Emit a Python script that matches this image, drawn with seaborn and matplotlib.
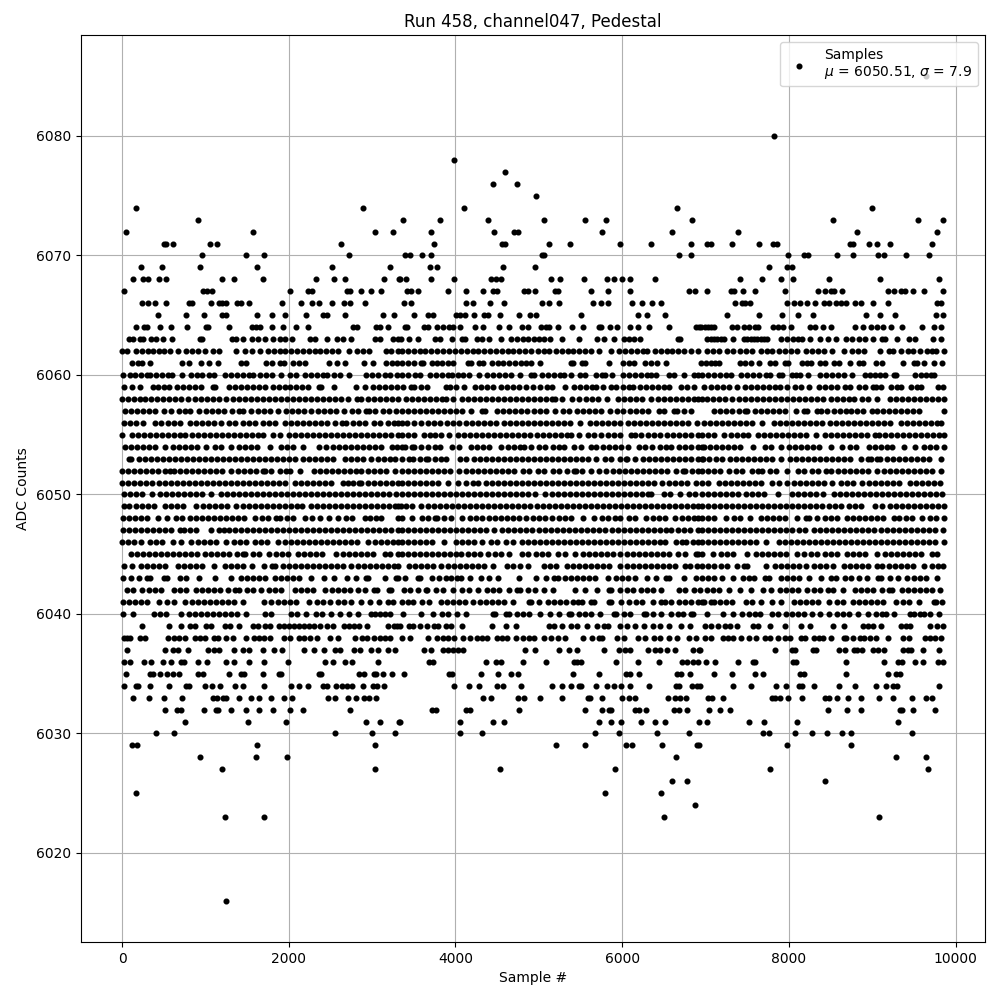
#pedestal scatter for one channel, sample number vs adc counts. values read per adc level.

import matplotlib
matplotlib.use("Agg")
import matplotlib.pyplot as plt
import seaborn as sns
import pandas as pd

# sample numbers seen at each ADC level
adc_6085 = [9648]
adc_6080 = [7820]
adc_6078 = [3988]
adc_6077 = [4600]
adc_6076 = [4456, 4744]
adc_6075 = [4960]
adc_6074 = [164, 2888, 4108, 6652, 8996]
adc_6073 = [908, 3376, 3820, 4396, 5056, 5548, 5800, 6832, 8528, 9548, 9848]
adc_6072 = [44, 1568, 3032, 3248, 3712, 4468, 4708, 4756, 5752, 6592, 7388, 8816, 9776]
adc_6071 = [500, 530, 616, 1052, 1136, 2624, 3748, 4564, 4600, 5116, 5368, 5968, 6340, 6820, 7016, 7064, 7316, 7640, 7808, 7856, 8732, 8768, 8960, 9056, 9212, 9716]
adc_6070 = [956, 1484, 1700, 2720, 3400, 3460, 3604, 3712, 5032, 5056, 6676, 6820, 7988, 8180, 8228, 8576, 8768, 9068, 9140, 9404, 9680]
adc_6069 = [224, 476, 932, 1616, 2516, 3212, 3700, 3784, 4576, 4948, 7760, 7976, 8036]
adc_6068 = [128, 248, 308, 440, 524, 1196, 1340, 1688, 2324, 2540, 2672, 3140, 3320, 3336, 3412, 3712, 3988, 4432, 4492, 4552, 5140, 5248, 5536, 5812, 5896, 5992, 6088, 6388, 7408, 7676, 7904, 8048, 8480, 9092, 9800]
adc_6067 = [20, 976, 1024, 1076, 2012, 2228, 2276, 2700, 2732, 2864, 2984, 3104, 3424, 3472, 3556, 3916, 4132, 4336, 4456, 4504, 4828, 4876, 4948, 5188, 5224, 5620, 5824, 6088, 6796, 6868, 7016, 7304, 7340, 7448, 7592, 7952, 8348, 8432, 8504, 8540, 8636, 9188, 9260, 9344, 9392, 9488, 9620, 9848]
adc_6066 = [236, 308, 392, 524, 800, 836, 1064, 1160, 1196, 1244, 1376, 1424, 1520, 1916, 2144, 2276, 2360, 2516, 2660, 2732, 2912, 3388, 3472, 4132, 4216, 4420, 4588, 5032, 5116, 5236, 5644, 5740, 5824, 6112, 6232, 6352, 6460, 7352, 7436, 7472, 7532, 7976, 8060, 8132, 8216, 8312, 8420, 8480, 8564, 8624, 8684, 8792, 8864, 9008, 9188, 9776, 9824]
adc_6065 = [428, 764, 980, 1196, 1244, 1616, 1796, 1952, 2204, 2408, 2456, 2672, 3128, 3260, 3508, 3676, 3736, 4012, 4060, 4120, 4228, 4348, 4396, 4540, 4768, 4900, 4960, 5500, 6184, 6292, 6508, 7256, 7640, 7916, 8108, 8288, 8924, 9092, 9272, 9764, 9848]
adc_6064 = [164, 260, 296, 452, 584, 776, 1004, 1028, 1280, 1556, 1604, 1652, 1796, 1928, 2084, 2228, 2768, 2816, 3044, 3092, 3188, 3400, 3424, 3628, 3676, 3784, 3856, 3928, 3976, 4060, 4240, 4336, 4528, 4648, 4804, 4876, 5020, 5080, 5116, 5224, 5392, 5524, 5716, 5740, 5848, 5936, 6088, 6184, 6316, 6556, 6880, 6916, 6948, 6988, 7028, 7068, 7100, 7316, 7376, 7460, 7520, 7592, 7628, 7808, 7868, 7928, 8024, 8252, 8312, 8408, 8504, 8792, 8888, 8984, 9056, 9128, 9224, 9356, 9596, 9740, 9824]
adc_6063 = [80, 128, 212, 248, 344, 404, 488, 596, 932, 956, 1316, 1364, 1448, 1556, 1628, 1712, 1808, 1892, 1952, 2036, 2252, 2312, 2464, 2576, 2648, 2744, 3032, 3092, 3248, 3308, 3352, 3448, 3556, 3760, 3820, 3964, 4084, 4120, 4264, 4324, 4408, 4552, 4672, 4744, 4816, 4876, 4936, 4996, 5056, 5136, 5272, 5476, 5692, 5776, 5896, 6016, 6076, 6136, 6216, 6664, 6688, 7016, 7060, 7100, 7140, 7180, 7216, 7328, 7460, 7500, 7540, 7580, 7620, 7660, 7700, 7740, 7904, 7976, 8048, 8108, 8156, 8252, 8372, 8468, 8564, 8684, 8756, 8840, 8912, 9008, 9116, 9152, 9296, 9440, 9512, 9728, 9824]
adc_6062 = [4, 64, 170, 240, 305, 375, 440, 505, 575, 672, 768, 840, 912, 992, 1088, 1160, 1368, 1472, 1560, 1652, 1748, 1820, 1890, 1960, 2030, 2100, 2170, 2240, 2310, 2380, 2450, 2520, 2592, 2724, 2816, 2888, 2960, 3168, 3232, 3308, 3360, 3430, 3500, 3570, 3640, 3710, 3780, 3850, 3924, 3995, 4065, 4135, 4205, 4275, 4345, 4415, 4485, 4555, 4625, 4695, 4765, 4835, 4908, 4984, 5056, 5116, 5204, 5275, 5345, 5415, 5485, 5555, 5625, 5720, 5864, 5956, 6036, 6108, 6180, 6244, 6296, 6392, 6462, 6532, 6602, 6672, 6742, 6828, 6904, 7016, 7088, 7160, 7256, 7332, 7416, 7488, 7560, 7668, 7736, 7800, 7884, 7956, 8028, 8100, 8204, 8276, 8348, 8420, 8520, 8660, 8756, 8828, 8900, 9096, 9200, 9248, 9340, 9428, 9492, 9576, 9652, 9716, 9760, 9860]
adc_6061 = [124, 188, 240, 332, 720, 800, 952, 1040, 1148, 1432, 1484, 1728, 1800, 1900, 1948, 2056, 2128, 2200, 2480, 2576, 2672, 2900, 3008, 3168, 3240, 3300, 3364, 3436, 3500, 3584, 3610, 3716, 3776, 3836, 3916, 3976, 4152, 4190, 4284, 4330, 4436, 4506, 4576, 4646, 4716, 4786, 4850, 4905, 5008, 5384, 5408, 5516, 5556, 5844, 6004, 6076, 6140, 6276, 6348, 6412, 6520, 6948, 7008, 7068, 7116, 7160, 7416, 7476, 7548, 7636, 7776, 7832, 7956, 7988, 8156, 8220, 8260, 8368, 8428, 8536, 8600, 8732, 8840, 8888, 9048, 9120, 9368, 9500, 9532, 9616, 9736, 9832]
adc_6060 = [8, 100, 152, 228, 300, 340, 408, 480, 550, 600, 720, 828, 900, 960, 1040, 1100, 1240, 1310, 1380, 1450, 1520, 1572, 1656, 1728, 1800, 1912, 2016, 2088, 2192, 2268, 2340, 2412, 2460, 2540, 2612, 2720, 2928, 3000, 3072, 3152, 3220, 3300, 3364, 3436, 3510, 3572, 3692, 3764, 3836, 3908, 3956, 4036, 4088, 4164, 4280, 4384, 4456, 4528, 4600, 4672, 4780, 4904, 4940, 5036, 5108, 5180, 5252, 5300, 5384, 5496, 5556, 5684, 5756, 5790, 5876, 6004, 6076, 6148, 6220, 6292, 6348, 6408, 6560, 6624, 6736, 6864, 6908, 6956, 7028, 7100, 7172, 7244, 7300, 7428, 7500, 7572, 7644, 7720, 7776, 7876, 7920, 8036, 8090, 8130, 8228, 8376, 8448, 8520, 8592, 8664, 8760, 8916, 8976, 9036, 9096, 9148, 9256, 9288, 9516, 9580, 9640, 9700, 9740]
adc_6059 = [20, 120, 212, 368, 430, 500, 560, 656, 728, 800, 870, 950, 1096, 1120, 1288, 1360, 1430, 1500, 1570, 1640, 1712, 1808, 1880, 1950, 2020, 2090, 2160, 2232, 2368, 2392, 2540, 2808, 2912, 3008, 3080, 3152, 3224, 3296, 3376, 3464, 3508, 3592, 3660, 3884, 3930, 4004, 4108, 4236, 4308, 4380, 4448, 4544, 4616, 4688, 4760, 4848, 4932, 5008, 5092, 5156, 5316, 5416, 5488, 5560, 5632, 5688, 5768, 5864, 5928, 6004, 6076, 6128, 6212, 6284, 6356, 6428, 6500, 6560, 6704, 6776, 6860, 6976, 7068, 7136, 7208, 7280, 7380, 7476, 7548, 7620, 7692, 7764, 7836, 7892, 7976, 8076, 8148, 8240, 8364, 8436, 8508, 8580, 8668, 8736, 8844, 8912, 9008, 9040, 9108, 9228, 9300, 9340, 9464, 9536, 9588, 9788, 9844]
adc_6058 = [0, 70, 140, 210, 280, 350, 420, 490, 560, 630, 712, 788, 880, 950, 1020, 1090, 1160, 1252, 1336, 1408, 1480, 1552, 1624, 1696, 1768, 1840, 1912, 1984, 2056, 2128, 2200, 2272, 2344, 2416, 2488, 2560, 2632, 2712, 2820, 2864, 2948, 3020, 3092, 3164, 3236, 3312, 3404, 3476, 3548, 3620, 3692, 3764, 3836, 3888, 3976, 4076, 4148, 4220, 4292, 4364, 4436, 4508, 4580, 4652, 4724, 4796, 4868, 4940, 5012, 5084, 5156, 5188, 5276, 5396, 5476, 5564, 5636, 5708, 5820, 5944, 6016, 6088, 6160, 6232, 6348, 6424, 6496, 6568, 6640, 6712, 6784, 6856, 6908, 6956, 7020, 7084, 7156, 7228, 7320, 7396, 7468, 7540, 7612, 7684, 7756, 7828, 7900, 7972, 8044, 8116, 8188, 8260, 8332, 8404, 8500, 8576, 8648, 8720, 8780, 8876, 8948, 9060, 9216, 9288, 9360, 9432, 9504, 9576, 9648, 9720, 9792, 9860]
adc_6057 = [40, 110, 180, 250, 320, 400, 508, 584, 680, 750, 820, 920, 1008, 1080, 1150, 1224, 1320, 1408, 1452, 1548, 1628, 1700, 1770, 1872, 1968, 2040, 2110, 2180, 2272, 2348, 2428, 2500, 2570, 2664, 2760, 2832, 2932, 2960, 3040, 3136, 3208, 3292, 3364, 3436, 3508, 3580, 3652, 3724, 3796, 3868, 3940, 4012, 4084, 4188, 4324, 4356, 4504, 4576, 4648, 4720, 4792, 4864, 4936, 5008, 5080, 5188, 5288, 5356, 5452, 5524, 5596, 5668, 5740, 5848, 5936, 6004, 6088, 6164, 6236, 6308, 6436, 6500, 6624, 6660, 6744, 6828, 7096, 7168, 7240, 7312, 7400, 7476, 7500, 7596, 7668, 7740, 7812, 7884, 7956, 8080, 8184, 8220, 8336, 8380, 8456, 8536, 8608, 8680, 8748, 8820, 8892, 8992, 9056, 9128, 9200, 9272, 9344, 9420, 9488, 9560, 9860]
adc_6056 = [20, 92, 164, 252, 400, 472, 552, 628, 700, 812, 888, 960, 1030, 1100, 1192, 1280, 1350, 1452, 1528, 1600, 1692, 1760, 1832, 1952, 2028, 2100, 2172, 2244, 2316, 2388, 2460, 2552, 2640, 2692, 2776, 2848, 2912, 3028, 3100, 3192, 3268, 3312, 3364, 3420, 3504, 3588, 3676, 3748, 3816, 3904, 3976, 4048, 4128, 4196, 4268, 4340, 4412, 4484, 4580, 4652, 4724, 4796, 4868, 4940, 5012, 5084, 5156, 5228, 5300, 5368, 5496, 5612, 5684, 5756, 5828, 5900, 5972, 6068, 6144, 6216, 6288, 6360, 6432, 6504, 6576, 6648, 6720, 6788, 6896, 6976, 7048, 7120, 7192, 7264, 7336, 7408, 7480, 7552, 7680, 7816, 7888, 7960, 8032, 8104, 8176, 8248, 8320, 8400, 8496, 8568, 8640, 8712, 8784, 8856, 8928, 9000, 9072, 9144, 9216, 9340, 9416, 9488, 9560, 9632, 9704, 9776, 9820]
adc_6055 = [0, 120, 192, 264, 336, 408, 480, 552, 624, 696, 752, 840, 912, 984, 1056, 1128, 1200, 1272, 1344, 1416, 1488, 1560, 1632, 1692, 1816, 1892, 2008, 2080, 2152, 2224, 2296, 2368, 2440, 2512, 2584, 2656, 2728, 2800, 2872, 2944, 3016, 3088, 3160, 3232, 3312, 3364, 3436, 3508, 3620, 3692, 3756, 3824, 3920, 4036, 4108, 4180, 4252, 4324, 4396, 4468, 4540, 4612, 4684, 4756, 4828, 4900, 4972, 5044, 5116, 5188, 5260, 5332, 5388, 5476, 5588, 5664, 5748, 5824, 5896, 5968, 6104, 6148, 6220, 6304, 6376, 6448, 6536, 6608, 6680, 6752, 6824, 6908, 6956, 7028, 7100, 7220, 7308, 7380, 7452, 7508, 7628, 7700, 7772, 7844, 7916, 7988, 8060, 8132, 8204, 8320, 8428, 8500, 8572, 8644, 8716, 8788, 8860, 8940, 9036, 9080, 9156, 9228, 9300, 9372, 9444, 9516, 9588, 9660, 9732, 9804, 9860]
adc_6054 = [40, 112, 184, 256, 328, 400, 512, 616, 688, 760, 832, 904, 1012, 1116, 1188, 1312, 1408, 1480, 1552, 1624, 1772, 1908, 1980, 2052, 2172, 2368, 2452, 2528, 2600, 2672, 2744, 2816, 2888, 2960, 3032, 3112, 3240, 3300, 3356, 3396, 3484, 3508, 3584, 3668, 3752, 3820, 3964, 4048, 4184, 4256, 4328, 4400, 4548, 4628, 4704, 4776, 4828, 4904, 5000, 5068, 5172, 5244, 5300, 5424, 5508, 5624, 5688, 5764, 5836, 5908, 5984, 6068, 6204, 6276, 6360, 6456, 6528, 6580, 6684, 6756, 6828, 6908, 6956, 6980, 7048, 7128, 7200, 7272, 7344, 7416, 7572, 7716, 7788, 7908, 7996, 8068, 8140, 8212, 8284, 8356, 8500, 8636, 8728, 8800, 8956, 9028, 9100, 9172, 9240, 9380, 9508, 9616, 9688, 9760, 9860]
adc_6053 = [88, 112, 200, 272, 344, 416, 488, 560, 632, 704, 776, 848, 920, 992, 1064, 1136, 1212, 1288, 1360, 1432, 1504, 1576, 1648, 1720, 1792, 1864, 1936, 2008, 2080, 2172, 2248, 2320, 2392, 2464, 2536, 2672, 2748, 2820, 2892, 2992, 3068, 3140, 3212, 3272, 3360, 3444, 3488, 3576, 3644, 3668, 3752, 3824, 3888, 4052, 4128, 4224, 4296, 4368, 4440, 4512, 4584, 4656, 4728, 4800, 4872, 4944, 5016, 5088, 5160, 5232, 5304, 5376, 5448, 5520, 5592, 5688, 5792, 5864, 5968, 6044, 6060, 6152, 6248, 6324, 6396, 6468, 6540, 6612, 6684, 6756, 6828, 6908, 6956, 6972, 7044, 7120, 7200, 7296, 7368, 7440, 7512, 7584, 7656, 7728, 7800, 7900, 8008, 8088, 8160, 8232, 8304, 8376, 8448, 8520, 8592, 8664, 8736, 8860, 8944, 8980, 9056, 9092, 9176, 9248, 9320, 9396, 9468, 9540, 9612, 9684, 9820]
adc_6052 = [0, 72, 144, 216, 288, 360, 432, 512, 576, 624, 696, 768, 840, 912, 984, 1056, 1128, 1200, 1312, 1388, 1460, 1532, 1612, 1688, 1712, 1788, 1892, 1968, 2012, 2140, 2300, 2376, 2448, 2520, 2592, 2664, 2736, 2808, 2872, 2948, 3020, 3092, 3164, 3272, 3364, 3436, 3508, 3580, 3652, 3724, 3796, 3868, 3940, 4048, 4124, 4196, 4268, 4340, 4412, 4484, 4556, 4628, 4700, 4808, 4888, 4984, 5056, 5168, 5244, 5340, 5424, 5440, 5512, 5628, 5716, 5808, 5884, 5956, 6028, 6100, 6172, 6244, 6316, 6388, 6460, 6532, 6648, 6732, 6756, 6836, 6908, 6956, 7028, 7100, 7172, 7280, 7364, 7436, 7560, 7628, 7680, 7776, 7848, 7972, 8108, 8180, 8276, 8348, 8444, 8500, 8588, 8660, 8732, 8804, 8876, 8948, 9060, 9136, 9208, 9280, 9352, 9424, 9496, 9568, 9640, 9712, 9820]
adc_6051 = [0, 72, 144, 216, 288, 360, 444, 520, 592, 664, 736, 808, 880, 952, 1024, 1096, 1168, 1240, 1312, 1384, 1456, 1528, 1600, 1672, 1744, 1816, 1888, 1960, 2072, 2152, 2224, 2296, 2368, 2440, 2512, 2652, 2708, 2772, 2848, 2872, 2956, 3028, 3100, 3172, 3244, 3312, 3364, 3436, 3508, 3580, 3652, 3724, 3796, 3908, 4036, 4124, 4208, 4276, 4364, 4436, 4508, 4580, 4652, 4724, 4796, 4868, 4940, 5012, 5084, 5156, 5228, 5300, 5372, 5444, 5516, 5588, 5660, 5732, 5804, 5876, 5948, 6020, 6092, 6164, 6236, 6308, 6380, 6476, 6564, 6636, 6708, 6780, 6888, 6956, 7028, 7160, 7236, 7308, 7380, 7452, 7524, 7596, 7668, 7800, 7884, 7972, 8056, 8128, 8200, 8272, 8344, 8416, 8520, 8624, 8696, 8768, 8880, 8956, 9028, 9100, 9172, 9244, 9316, 9448, 9524, 9596, 9668, 9740, 9808]
adc_6050 = [28, 100, 172, 244, 360, 456, 528, 600, 672, 744, 816, 888, 960, 1064, 1188, 1260, 1332, 1404, 1476, 1548, 1620, 1692, 1764, 1836, 1908, 1980, 2052, 2124, 2196, 2268, 2340, 2412, 2484, 2556, 2628, 2700, 2772, 2844, 2916, 2988, 3060, 3132, 3204, 3292, 3364, 3436, 3508, 3580, 3652, 3724, 3796, 3868, 3940, 4012, 4084, 4156, 4228, 4300, 4372, 4444, 4516, 4588, 4660, 4732, 4804, 4876, 4948, 5076, 5156, 5228, 5300, 5372, 5444, 5516, 5588, 5660, 5732, 5804, 5876, 5948, 6020, 6092, 6164, 6236, 6308, 6348, 6504, 6576, 6688, 6804, 6868, 6956, 7028, 7100, 7172, 7244, 7316, 7388, 7480, 7556, 7628, 7700, 7872, 8036, 8108, 8180, 8252, 8324, 8412, 8536, 8608, 8680, 8752, 8824, 8896, 8968, 9040, 9112, 9184, 9256, 9328, 9400, 9472, 9544, 9616, 9688, 9760, 9840]
adc_6049 = [28, 80, 168, 240, 312, 384, 512, 588, 660, 732, 892, 968, 1040, 1112, 1184, 1256, 1372, 1456, 1528, 1600, 1672, 1744, 1816, 1888, 1960, 2032, 2104, 2160, 2268, 2340, 2412, 2484, 2556, 2628, 2700, 2772, 2844, 2916, 2988, 3060, 3132, 3204, 3276, 3312, 3350, 3412, 3484, 3588, 3676, 3748, 3820, 3892, 3964, 4036, 4108, 4180, 4252, 4324, 4396, 4468, 4540, 4612, 4684, 4756, 4828, 4900, 4972, 5044, 5116, 5188, 5260, 5332, 5404, 5476, 5548, 5620, 5692, 5764, 5836, 5908, 5980, 6052, 6124, 6196, 6268, 6340, 6412, 6484, 6556, 6628, 6700, 6772, 6844, 6908, 6956, 7028, 7100, 7172, 7244, 7316, 7388, 7460, 7532, 7604, 7676, 7748, 7820, 7892, 7964, 8036, 8108, 8180, 8252, 8324, 8396, 8480, 8556, 8628, 8724, 8796, 8868, 9028, 9120, 9216, 9288, 9360, 9432, 9504, 9576, 9648, 9720, 9792, 9860]
adc_6048 = [8, 80, 152, 224, 296, 432, 536, 652, 720, 816, 888, 960, 1032, 1104, 1176, 1248, 1320, 1392, 1464, 1592, 1680, 1752, 1848, 1892, 1980, 2052, 2192, 2280, 2380, 2480, 2592, 2688, 2760, 2912, 2976, 3048, 3112, 3308, 3364, 3476, 3596, 3676, 3752, 3780, 3864, 3948, 4076, 4176, 4248, 4316, 4404, 4476, 4548, 4620, 4692, 4764, 4848, 4932, 5004, 5076, 5156, 5236, 5308, 5380, 5528, 5656, 5752, 5828, 5912, 5968, 6084, 6156, 6288, 6364, 6436, 6508, 6628, 6716, 6788, 6860, 6908, 6956, 7028, 7100, 7240, 7344, 7416, 7532, 7668, 7740, 7812, 7884, 7956, 8100, 8204, 8240, 8336, 8428, 8500, 8572, 8696, 8768, 8840, 8912, 8984, 9056, 9128, 9260, 9320, 9404, 9476, 9600, 9688, 9760, 9860]
adc_6047 = [8, 80, 152, 224, 296, 368, 440, 512, 584, 692, 748, 820, 892, 1072, 1160, 1224, 1288, 1360, 1432, 1504, 1576, 1648, 1720, 1792, 1864, 1936, 2008, 2080, 2152, 2224, 2296, 2368, 2440, 2512, 2584, 2656, 2728, 2800, 2872, 2944, 3016, 3088, 3160, 3232, 3312, 3364, 3436, 3508, 3580, 3652, 3724, 3796, 3868, 3940, 4012, 4084, 4156, 4228, 4300, 4372, 4468, 4564, 4636, 4708, 4780, 4852, 4924, 4996, 5068, 5140, 5212, 5284, 5356, 5428, 5500, 5572, 5644, 5716, 5796, 5876, 5948, 6020, 6092, 6164, 6236, 6308, 6380, 6452, 6524, 6588, 6664, 6736, 6808, 6908, 6956, 7028, 7100, 7172, 7244, 7316, 7388, 7460, 7532, 7604, 7676, 7748, 7820, 7892, 7964, 8040, 8116, 8188, 8300, 8376, 8448, 8520, 8592, 8664, 8736, 8808, 8880, 8952, 9020, 9108, 9180, 9252, 9324, 9396, 9468, 9540, 9612, 9684, 9756, 9852]
adc_6046 = [0, 72, 144, 224, 336, 408, 480, 612, 708, 832, 908, 980, 1052, 1124, 1252, 1348, 1420, 1492, 1592, 1668, 1740, 1872, 1960, 2032, 2104, 2176, 2248, 2320, 2392, 2464, 2536, 2608, 2680, 2752, 2824, 2952, 3040, 3112, 3184, 3256, 3312, 3364, 3436, 3508, 3580, 3652, 3724, 3868, 4004, 4076, 4148, 4228, 4316, 4424, 4496, 4608, 4688, 4796, 4868, 4940, 5012, 5084, 5156, 5228, 5300, 5372, 5444, 5516, 5588, 5660, 5732, 5804, 5876, 5948, 6020, 6092, 6164, 6236, 6308, 6380, 6452, 6508, 6644, 6716, 6768, 6844, 6908, 6956, 7028, 7100, 7172, 7244, 7316, 7388, 7460, 7532, 7604, 7720, 7884, 7956, 8028, 8100, 8172, 8244, 8316, 8388, 8460, 8532, 8604, 8676, 8748, 8820, 8892, 8964, 9036, 9108, 9180, 9252, 9324, 9396, 9468, 9540, 9612, 9684, 9756, 9860]
adc_6045 = [108, 180, 252, 324, 396, 468, 540, 612, 684, 756, 828, 900, 992, 1068, 1140, 1212, 1284, 1384, 1456, 1480, 1568, 1640, 1760, 1848, 1920, 1992, 2112, 2188, 2260, 2332, 2404, 2572, 2656, 2728, 2800, 2872, 2944, 3016, 3152, 3220, 3308, 3364, 3436, 3508, 3580, 3652, 3724, 3796, 3868, 3940, 4012, 4068, 4148, 4224, 4296, 4396, 4476, 4544, 4648, 4796, 4876, 4964, 5036, 5108, 5228, 5312, 5436, 5524, 5596, 5668, 5740, 5812, 5884, 5968, 6052, 6124, 6196, 6268, 6340, 6412, 6484, 6556, 6668, 6756, 6884, 6908, 6956, 7092, 7188, 7260, 7332, 7500, 7604, 7676, 7748, 7820, 7892, 7964, 8092, 8176, 8268, 8336, 8436, 8508, 8580, 8700, 8764, 8836, 8908, 9060, 9148, 9220, 9292, 9364, 9436, 9508, 9580, 9720, 9780]
adc_6044 = [20, 120, 228, 300, 372, 444, 516, 672, 748, 820, 892, 964, 1104, 1236, 1308, 1380, 1452, 1560, 1700, 1800, 1832, 1928, 2000, 2072, 2144, 2216, 2288, 2360, 2432, 2504, 2576, 2648, 2752, 2828, 2900, 2972, 3044, 3116, 3188, 3260, 3312, 3444, 3516, 3588, 3660, 3728, 3824, 3916, 3988, 4060, 4132, 4196, 4276, 4348, 4448, 4616, 4696, 4776, 4876, 5056, 5128, 5200, 5332, 5404, 5476, 5548, 5620, 5692, 5764, 5836, 5968, 6052, 6124, 6196, 6268, 6340, 6412, 6484, 6556, 6628, 6748, 6816, 6896, 6956, 7028, 7100, 7184, 7256, 7380, 7456, 7500, 7720, 7836, 7908, 7980, 8052, 8124, 8200, 8296, 8368, 8440, 8532, 8656, 8728, 8800, 8872, 8944, 9060, 9116, 9196, 9268, 9340, 9412, 9484, 9620, 9716, 9788, 9852]
adc_6043 = [8, 112, 200, 296, 332, 508, 544, 696, 768, 924, 1120, 1308, 1428, 1500, 1572, 1644, 1716, 1832, 1908, 1980, 2052, 2124, 2272, 2428, 2540, 2700, 2812, 2928, 2952, 3160, 3288, 3312, 3396, 3556, 3580, 3724, 3808, 3892, 3948, 4024, 4068, 4176, 4304, 4408, 4516, 4768, 4964, 5088, 5184, 5228, 5312, 5384, 5456, 5528, 5600, 5672, 5828, 5924, 5996, 6068, 6148, 6296, 6400, 6528, 6556, 6736, 6884, 6956, 7028, 7100, 7196, 7328, 7444, 7516, 7580, 7716, 7760, 7908, 7980, 8052, 8124, 8240, 8380, 8508, 8568, 8676, 8748, 8844, 8932, 9068, 9100, 9208, 9312, 9416, 9496, 9568, 9640, 9780]
adc_6042 = [56, 128, 240, 320, 396, 464, 628, 700, 772, 892, 960, 1032, 1104, 1176, 1272, 1360, 1400, 1496, 1568, 1664, 1768, 1840, 1912, 2072, 2148, 2220, 2292, 2432, 2520, 2592, 2664, 2736, 2832, 2920, 3028, 3064, 3208, 3232, 3384, 3456, 3548, 3644, 3660, 3764, 3848, 3976, 4084, 4168, 4276, 4384, 4456, 4528, 4640, 4736, 4780, 4876, 4956, 5056, 5168, 5428, 5556, 5696, 5844, 5868, 5976, 6052, 6128, 6224, 6296, 6368, 6460, 6676, 6748, 6860, 6928, 7016, 7088, 7160, 7280, 7416, 7548, 7684, 7788, 7888, 7960, 8032, 8104, 8220, 8296, 8368, 8472, 8524, 8648, 8788, 8860, 8932, 9004, 9120, 9196, 9240, 9356, 9428, 9500, 9572, 9644, 9716, 9812]
adc_6041 = [8, 80, 152, 224, 296, 444, 536, 620, 752, 840, 912, 984, 1056, 1128, 1200, 1272, 1344, 1452, 1708, 1792, 1868, 1940, 2012, 2084, 2240, 2336, 2408, 2492, 2588, 2660, 2752, 2868, 2972, 3080, 3188, 3252, 3364, 3436, 3488, 3604, 3688, 3824, 3896, 3968, 4040, 4112, 4208, 4292, 4364, 4436, 4508, 4580, 4688, 4884, 4908, 4996, 5112, 5184, 5256, 5328, 5408, 5472, 5520, 5624, 5656, 5844, 5868, 5988, 6084, 6164, 6236, 6368, 6464, 6508, 6588, 6684, 6756, 6828, 6908, 6956, 6980, 7068, 7100, 7176, 7248, 7320, 7480, 7560, 7660, 7800, 7908, 8056, 8128, 8200, 8272, 8344, 8480, 8576, 8652, 8764, 8836, 8908, 8980, 9052, 9124, 9280, 9368, 9440, 9560, 9736, 9760, 9840]
adc_6040 = [8, 132, 388, 460, 532, 712, 800, 872, 944, 1016, 1088, 1160, 1232, 1304, 1376, 1492, 1720, 1792, 2028, 2100, 2212, 2328, 2400, 2512, 2620, 2728, 2832, 2988, 3032, 3100, 3160, 3220, 3376, 3588, 3736, 3844, 3908, 4024, 4124, 4452, 4480, 4604, 4648, 4744, 4816, 4888, 5016, 5136, 5236, 5364, 5388, 5484, 5548, 5624, 5736, 5904, 5928, 6024, 6088, 6264, 6288, 6364, 6468, 6588, 6664, 6728, 6824, 6848, 7016, 7208, 7324, 7440, 7520, 7588, 7648, 7796, 7868, 7964, 8036, 8108, 8180, 8280, 8376, 8480, 8576, 8648, 8720, 8828, 8944, 9044, 9116, 9160, 9256, 9456, 9500, 9576, 9620, 9696, 9800]
adc_6039 = [236, 560, 704, 812, 872, 1004, 1064, 1232, 1292, 1400, 1568, 1628, 1712, 1780, 1880, 1940, 2000, 2060, 2120, 2180, 2240, 2300, 2380, 2460, 2528, 2660, 2720, 2780, 2840, 2936, 3188, 3260, 3300, 3336, 3448, 3496, 3576, 3664, 3748, 3796, 3888, 3952, 4084, 4444, 4612, 4728, 5116, 5176, 5272, 5380, 5452, 5572, 5692, 5776, 5824, 5968, 6056, 6156, 6256, 6364, 6448, 6556, 6700, 6808, 6988, 7068, 7148, 7228, 7288, 7376, 7568, 7628, 7768, 7948, 8148, 8252, 8528, 8660, 8888, 8948, 9008, 9108, 9344, 9408, 9448, 9688, 9776, 9848]
adc_6038 = [20, 60, 100, 212, 272, 548, 620, 680, 760, 880, 940, 1000, 1100, 1148, 1244, 1328, 1484, 1580, 1640, 1700, 1780, 1940, 2012, 2120, 2180, 2260, 2340, 2500, 2588, 2792, 2880, 2940, 3020, 3092, 3160, 3220, 3356, 3460, 3676, 3776, 3856, 3916, 3988, 4096, 4176, 4256, 4316, 4384, 4496, 4556, 4616, 4728, 4816, 4888, 4936, 5056, 5140, 5224, 5308, 5528, 5632, 5716, 5756, 5936, 6024, 6184, 6268, 6376, 6456, 6556, 6656, 6796, 6884, 6988, 7064, 7208, 7268, 7328, 7420, 7520, 7604, 7708, 7768, 7864, 7952, 8016, 8148, 8192, 8300, 8360, 8408, 8504, 8660, 8688, 8768, 8848, 8896, 8968, 9048, 9184, 9368, 9440, 9628, 9688, 9748, 9828]
adc_6037 = [56, 512, 608, 668, 788, 1028, 1100, 1160, 1340, 1448, 1520, 1688, 1820, 1916, 2180, 2300, 2420, 2552, 2612, 2780, 2852, 2984, 3068, 3188, 3272, 3628, 3712, 3856, 3916, 3976, 4036, 4096, 4840, 4948, 5236, 5356, 5452, 5776, 5956, 6028, 6088, 6304, 6388, 6448, 6536, 6628, 6844, 6916, 6928, 7828, 8036, 8076, 8288, 8324, 8600, 8672, 8780, 8816, 8876, 9008, 9068, 9140, 9368, 9428, 9468, 9608, 9800]
adc_6036 = [20, 92, 260, 344, 488, 584, 704, 740, 908, 1020, 1244, 1340, 1520, 1700, 1988, 2432, 2528, 2672, 2756, 3068, 3688, 3736, 4372, 4492, 4552, 4816, 5080, 5416, 5452, 5500, 5920, 6184, 6436, 6712, 6776, 6844, 6904, 7008, 7112, 7388, 7568, 7592, 8048, 8088, 8684, 9140, 9308, 9356, 9508, 9608, 9788, 9848]
adc_6035 = [44, 332, 368, 452, 536, 608, 680, 908, 968, 1280, 1424, 1460, 1688, 1880, 1904, 2360, 2384, 2840, 2900, 3020, 3044, 3128, 3236, 3388, 3928, 3964, 4312, 4516, 4672, 4756, 5404, 5716, 6040, 6088, 6196, 6652, 6700, 6808, 7100, 7316, 7592, 7688, 8132, 8180, 8684, 9188, 9284, 9332]
adc_6034 = [20, 164, 188, 332, 560, 764, 800, 992, 1076, 1172, 1352, 1448, 1700, 2024, 2120, 2228, 2408, 2456, 2564, 2636, 2700, 2760, 2888, 3008, 3056, 3140, 3988, 4168, 4288, 4504, 4576, 4792, 5152, 5272, 5380, 5476, 5500, 5680, 5812, 5896, 5980, 6088, 6316, 6640, 6676, 6832, 6892, 6928, 7328, 7544, 7844, 7964, 8120, 8156, 8300, 8600, 8792, 9048, 9164, 9248, 9296, 9800]
adc_6033 = [128, 320, 500, 716, 1088, 1136, 1208, 1244, 1400, 1544, 1640, 1784, 1940, 2036, 2468, 2552, 2708, 2804, 2900, 2960, 3044, 4336, 4432, 4756, 4828, 5008, 5272, 5584, 5608, 5752, 5992, 6076, 6148, 6544, 6628, 6688, 6760, 7028, 7076, 7208, 7796, 7832, 7892, 7988, 8156, 8432, 8480, 8576, 8708, 8864, 9080, 9248, 9476, 9644, 9716]
adc_6032 = [512, 656, 704, 980, 1124, 1148, 1304, 1484, 1640, 1808, 2012, 2168, 2732, 3724, 3772, 4132, 4180, 4768, 5548, 5752, 5836, 5860, 6148, 6196, 6280, 6616, 6676, 6772, 7040, 7172, 7292, 8468, 8696, 8864, 9332, 9356, 9488, 9752]
adc_6031 = [752, 1508, 1964, 2924, 3092, 3320, 3336, 4060, 4456, 4588, 5716, 5860, 5980, 6220, 6388, 6508, 6916, 7016, 7520, 7700, 8096, 9308]
adc_6030 = [404, 620, 2552, 2996, 3272, 4060, 4324, 5668, 5956, 6412, 6796, 7688, 7760, 8072, 8276, 8456, 8636, 8744, 9476]
adc_6029 = [116, 176, 1616, 3032, 5200, 5548, 6040, 6112, 6472, 6892, 6916, 7976, 8744]
adc_6028 = [932, 1604, 1976, 6640, 9284, 9644]
adc_6027 = [1196, 3032, 4540, 5908, 7772, 9668]
adc_6026 = [6592, 6772, 8432]
adc_6025 = [164, 5788, 6460]
adc_6024 = [6868]
adc_6023 = [1232, 1700, 6496, 9080]
adc_6016 = [1244]

adc_rows = {
    6085: adc_6085, 6080: adc_6080, 6078: adc_6078, 6077: adc_6077, 6076: adc_6076,
    6075: adc_6075, 6074: adc_6074, 6073: adc_6073, 6072: adc_6072, 6071: adc_6071,
    6070: adc_6070, 6069: adc_6069, 6068: adc_6068, 6067: adc_6067, 6066: adc_6066,
    6065: adc_6065, 6064: adc_6064, 6063: adc_6063, 6062: adc_6062, 6061: adc_6061,
    6060: adc_6060, 6059: adc_6059, 6058: adc_6058, 6057: adc_6057, 6056: adc_6056,
    6055: adc_6055, 6054: adc_6054, 6053: adc_6053, 6052: adc_6052, 6051: adc_6051,
    6050: adc_6050, 6049: adc_6049, 6048: adc_6048, 6047: adc_6047, 6046: adc_6046,
    6045: adc_6045, 6044: adc_6044, 6043: adc_6043, 6042: adc_6042, 6041: adc_6041,
    6040: adc_6040, 6039: adc_6039, 6038: adc_6038, 6037: adc_6037, 6036: adc_6036,
    6035: adc_6035, 6034: adc_6034, 6033: adc_6033, 6032: adc_6032, 6031: adc_6031,
    6030: adc_6030, 6029: adc_6029, 6028: adc_6028, 6027: adc_6027, 6026: adc_6026,
    6025: adc_6025, 6024: adc_6024, 6023: adc_6023, 6016: adc_6016,
}

samples = pd.DataFrame(
    [(s, level) for level, row in adc_rows.items() for s in row],
    columns=["sample", "adc"],
)

fig, ax = plt.subplots(figsize=(10, 10), dpi=100)

sns.scatterplot(
    data=samples,
    x="sample",
    y="adc",
    ax=ax,
    marker=".",
    s=40,
    color="black",
    edgecolor="black",
    linewidth=1.2,
    zorder=2,
    label="Samples\n$\\mu$ = 6050.51, $\\sigma$ = 7.9",
)

ax.set_title("Run 458, channel047, Pedestal")
ax.set_xlabel("Sample #")
ax.set_ylabel("ADC Counts")
ax.grid(True)
ax.legend(loc="upper right")

fig.subplots_adjust(left=0.081, right=0.985, top=0.965, bottom=0.058)
fig.savefig("out.png", dpi=100)
